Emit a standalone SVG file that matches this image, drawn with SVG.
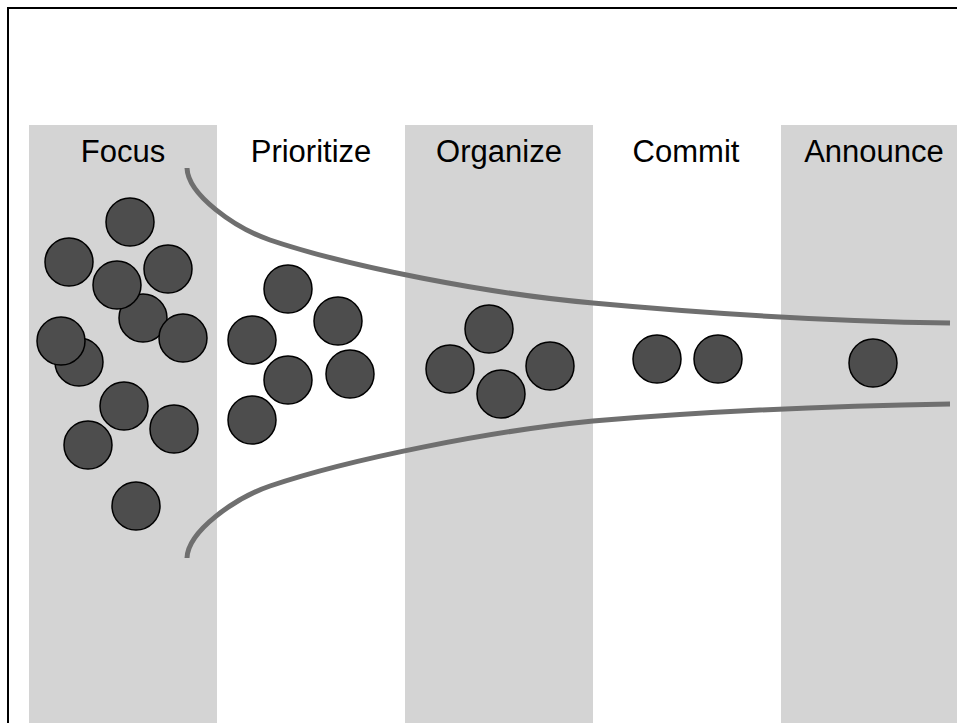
<svg xmlns="http://www.w3.org/2000/svg" width="957" height="723" viewBox="0 0 957 723">
<style>
.col{fill:#d4d4d4}
.lbl{font-family:"Liberation Sans",Arial,sans-serif;font-size:31px;fill:#000;text-anchor:middle}
.dot{fill:#4d4d4d;stroke:#000;stroke-width:1.5}
.funnel{fill:none;stroke:#6f6f6f;stroke-width:5}
</style>
<rect x="0" y="0" width="957" height="723" fill="#fff"/>
<g id="columns">
<rect class="col" x="29" y="125" width="188" height="600"/>
<rect class="col" x="405" y="125" width="188" height="600"/>
<rect class="col" x="781" y="125" width="188" height="600"/>
</g>
<rect x="8" y="8" width="970" height="740" fill="none" stroke="#000" stroke-width="2"/>
<g id="labels">
<text class="lbl" x="123" y="162">Focus</text>
<text class="lbl" x="311" y="162">Prioritize</text>
<text class="lbl" x="499" y="162">Organize</text>
<text class="lbl" x="686" y="162">Commit</text>
<text class="lbl" x="874" y="162">Announce</text>
</g>
<g id="connectors">
<path class="funnel" d="M187,168 C188,195 235,228 270,240 C350,267 490,294 593,303 C690,312 820,321 950,323"/>
<path class="funnel" d="M187,558 C188,531 235,498 270,486 C350,459 490,431 593,421 C690,413 820,406 950,404"/>
</g>
<g id="focus-items">
<circle class="dot" cx="130" cy="222" r="24"/>
<circle class="dot" cx="69" cy="262" r="24"/>
<circle class="dot" cx="168" cy="269" r="24"/>
<circle class="dot" cx="143" cy="318" r="24"/>
<circle class="dot" cx="117" cy="285" r="24"/>
<circle class="dot" cx="183" cy="338" r="24"/>
<circle class="dot" cx="79" cy="362" r="24"/>
<circle class="dot" cx="61" cy="341" r="24"/>
<circle class="dot" cx="124" cy="406" r="24"/>
<circle class="dot" cx="174" cy="429" r="24"/>
<circle class="dot" cx="88" cy="445" r="24"/>
<circle class="dot" cx="136" cy="506" r="24"/>
</g>
<g id="prioritize-items">
<circle class="dot" cx="288" cy="289" r="24"/>
<circle class="dot" cx="338" cy="321" r="24"/>
<circle class="dot" cx="252" cy="340" r="24"/>
<circle class="dot" cx="288" cy="380" r="24"/>
<circle class="dot" cx="350" cy="374" r="24"/>
<circle class="dot" cx="252" cy="420" r="24"/>
</g>
<g id="organize-items">
<circle class="dot" cx="489" cy="329" r="24"/>
<circle class="dot" cx="450" cy="369" r="24"/>
<circle class="dot" cx="501" cy="394" r="24"/>
<circle class="dot" cx="550" cy="366" r="24"/>
</g>
<g id="commit-items">
<circle class="dot" cx="657" cy="359" r="24"/>
<circle class="dot" cx="718" cy="359" r="24"/>
</g>
<g id="announce-items">
<circle class="dot" cx="873" cy="363" r="24"/>
</g>
</svg>
